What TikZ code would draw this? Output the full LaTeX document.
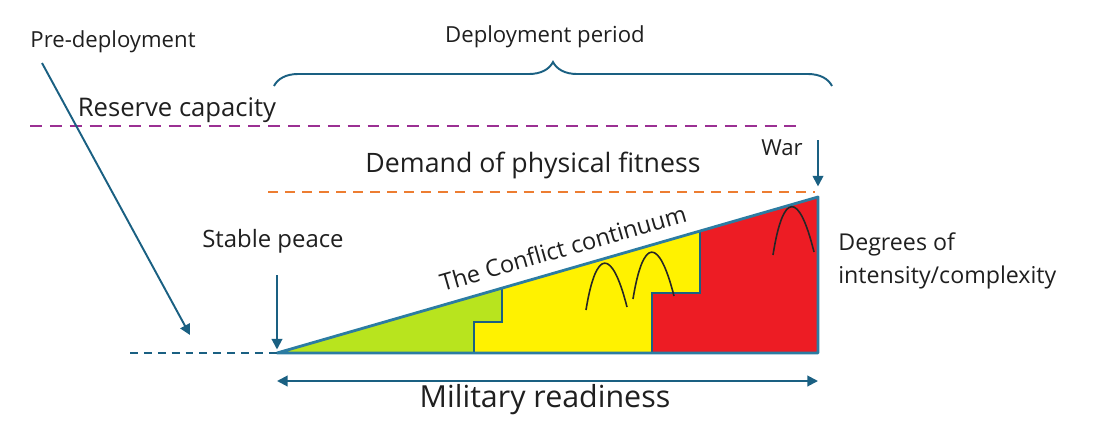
\documentclass[tikz,border=0pt]{standalone}
\usepackage{fontspec}
\setmainfont{Open Sans}
\usetikzlibrary{arrows.meta,positioning,decorations.pathreplacing}
\definecolor{tealline}{RGB}{26,96,130}
\definecolor{tealedge}{RGB}{44,124,162}
\definecolor{reservepurple}{RGB}{155,48,147}
\definecolor{demandorange}{RGB}{237,125,49}
\definecolor{peacegreen}{RGB}{184,228,30}
\definecolor{crisisyellow}{RGB}{255,242,0}
\definecolor{warred}{RGB}{237,28,36}
\begin{document}
\begin{tikzpicture}[x=0.02cm, y=-0.02cm, >={Triangle[length=6pt,width=6pt]}]
\tikzstyle{lbl}=[text=black!88, inner sep=0pt, font=\fontsize{12.6}{16}\selectfont]
\tikzstyle{biglbl}=[lbl, font=\fontsize{14.6}{17}\selectfont]
\tikzstyle{tealarrow}=[->, tealline, line width=1.1pt]
\tikzstyle{bump}=[black!85, line width=0.9pt]
\useasboundingbox (0,0) rectangle (1106,447);
% corners of the continuum
\coordinate (tip) at (277,353);
\coordinate (base) at (818,353);
\coordinate (top) at (818,197);
% coloured stages
\fill[peacegreen] (tip) -- (502,288.1) -- (502,322) -- (474,322) -- (474,353) -- cycle;
\fill[crisisyellow] (474,353) -- (474,322) -- (502,322) -- (502,288.1) -- (700,231) -- (700,293) -- (652,293) -- (652,353) -- cycle;
\fill[warred] (652,353) -- (652,293) -- (700,293) -- (700,231) -- (top) -- (base) -- cycle;
\draw[tealline, line width=0.9pt] (502,288.1) -- (502,322) -- (474,322) -- (474,353);
\draw[tealline, line width=0.9pt] (700,231) -- (700,293) -- (652,293) -- (652,353);
\draw[tealedge, line width=1.6pt, line join=round] (tip) -- (top) -- (base) -- cycle;
% peaks of intensity
\draw[bump] (586,310) .. controls (596,248) and (612,248) .. (627,307);
\draw[bump] (633,299) .. controls (643,237) and (659,237) .. (674,296);
\draw[bump] (773,255) .. controls (783,191) and (799,191) .. (814,252);
% labels
\node[lbl] (predep) at (113,42) {Pre-deployment};
\node[lbl] (deploy) at (545,37) {Deployment period};
\node[biglbl] (reserve) at (177,110) {Reserve capacity};
\node[biglbl, font=\fontsize{15.2}{18}\selectfont] (demand) at (533,165) {Demand of physical fitness};
\node[lbl, anchor=east] (war) at (803,148) {War};
\node[lbl, font=\fontsize{13.6}{16}\selectfont] (peace) at (273,241) {Stable peace};
\node[lbl, anchor=west, align=left, font=\fontsize{13.2}{18.5}\selectfont] (degrees) at (838,261) {Degrees of\\intensity/complexity};
\node[lbl, rotate=16.1, anchor=south, inner ysep=7pt, font=\fontsize{13.4}{16}\selectfont] (continuum) at (569,268.8) {The Conflict continuum};
\node[biglbl, font=\fontsize{17.3}{20}\selectfont] (readiness) at (545,400) {Military readiness};
% dashed levels
\coordinate (reserve L) at (30,126);
\coordinate (reserve R) at (800,126);
\coordinate (demand L) at (268,192);
\coordinate (demand R) at (815,192);
\coordinate (predep L) at (130,353);
\draw[reservepurple, line width=1.6pt, dash pattern=on 6.8pt off 4.5pt] (reserve L) -- (reserve R);
\draw[demandorange, line width=1.3pt, dash pattern=on 5.7pt off 4pt] (demand L) -- (demand R);
\draw[tealline, line width=1.1pt, dash pattern=on 4.5pt off 3.4pt] (predep L) -- (tip);
% brace over the deployment period
\coordinate (brace L) at (274,86);
\coordinate (brace R) at (832,86);
\draw[tealline, line width=1.1pt, decorate, decoration={brace, amplitude=0.48cm}] (brace L) -- (brace R);
% arrows
\coordinate (predep from) at (42,63);
\coordinate (predep to) at (190,335);
\coordinate (peace from) at (277,275);
\coordinate (war from) at (818,140);
\coordinate (ready L) at (277,381);
\coordinate (ready R) at (818,381);
\draw[tealarrow] (predep from) -- (predep to);
\draw[tealarrow, shorten >=2pt] (peace from) -- (tip);
\draw[tealarrow, shorten >=6pt] (war from) -- (top);
\draw[tealarrow, <->] (ready L) -- (ready R);
\end{tikzpicture}
\end{document}
